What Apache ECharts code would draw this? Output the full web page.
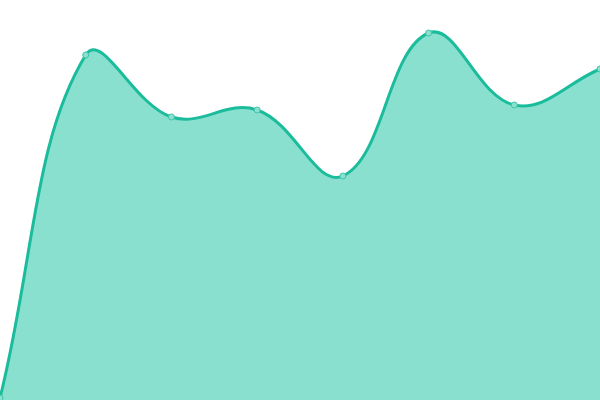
<!DOCTYPE html>
<html>
<head>
<meta charset="utf-8">
<script src="https://cdn.jsdelivr.net/npm/echarts@6/dist/echarts.min.js"></script>
<style>
  html, body { margin: 0; padding: 0; background: #fff; }
  #main { width: 600px; height: 400px; }
</style>
</head>
<body>
<div id="main"></div>
<script>
// 数据
var categories = ['1', '2', '3', '4', '5', '6', '7', '8'];
var values = [2, 345, 283, 290, 224, 367, 295, 331];

var TENSION = 0.4;

// 样条控制点（前后点连线方向，按距离分配）
function controlPoints(pts, w, h) {
  var out = [];
  for (var i = 0; i < pts.length; i++) {
    var prev = pts[Math.max(i - 1, 0)], cur = pts[i], next = pts[Math.min(i + 1, pts.length - 1)];
    var d01 = Math.hypot(cur[0] - prev[0], cur[1] - prev[1]);
    var d12 = Math.hypot(next[0] - cur[0], next[1] - cur[1]);
    var s01 = d01 / (d01 + d12), s12 = d12 / (d01 + d12);
    if (isNaN(s01)) s01 = 0;
    if (isNaN(s12)) s12 = 0;
    var fa = TENSION * s01, fb = TENSION * s12;
    var clampX = function(x){ return Math.min(Math.max(x, 0), w); };
    var clampY = function(y){ return Math.min(Math.max(y, 0), h); };
    out.push({
      prev: [clampX(cur[0] - fa * (next[0] - prev[0])), clampY(cur[1] - fa * (next[1] - prev[1]))],
      next: [clampX(cur[0] + fb * (next[0] - prev[0])), clampY(cur[1] + fb * (next[1] - prev[1]))]
    });
  }
  return out;
}

function renderCurve(params, api) {
  var pts = values.map(function(v, i){ return api.coord([i, v]); });
  var base = api.coord([0, 0])[1];
  var w = api.getWidth(), h = api.getHeight();
  var cps = controlPoints(pts, w, h);
  var d = 'M' + pts[0][0] + ' ' + pts[0][1];
  for (var i = 1; i < pts.length; i++) {
    var a = cps[i - 1].next, b = cps[i].prev;
    d += ' C' + a[0] + ' ' + a[1] + ' ' + b[0] + ' ' + b[1] + ' ' + pts[i][0] + ' ' + pts[i][1];
  }
  var area = d + ' L' + pts[pts.length - 1][0] + ' ' + base + ' L' + pts[0][0] + ' ' + base + ' Z';
  var children = [
    { type: 'path', shape: { pathData: area }, style: { fill: '#8ae0cf', stroke: null } },
    { type: 'path', shape: { pathData: d }, style: { fill: null, stroke: '#1abc9c', lineWidth: 3 } }
  ];
  pts.forEach(function(p){
    children.push({
      type: 'circle',
      shape: { cx: p[0], cy: p[1], r: 3 },
      style: { fill: '#8ce0cf', stroke: '#3ec5a8', lineWidth: 1 }
    });
  });
  return { type: 'group', children: children };
}

var chart = echarts.init(document.getElementById('main'));
chart.setOption({
  animation: false,
  grid: { left: 0, right: 0, top: 0, bottom: 0 },
  xAxis: {
    type: 'category',
    boundaryGap: false,
    data: categories,
    show: false
  },
  yAxis: {
    type: 'value',
    min: 0,
    max: 400,
    show: false
  },
  series: [{
    type: 'custom',
    renderItem: renderCurve,
    data: [0]
  }]
});
</script>
</body>
</html>
